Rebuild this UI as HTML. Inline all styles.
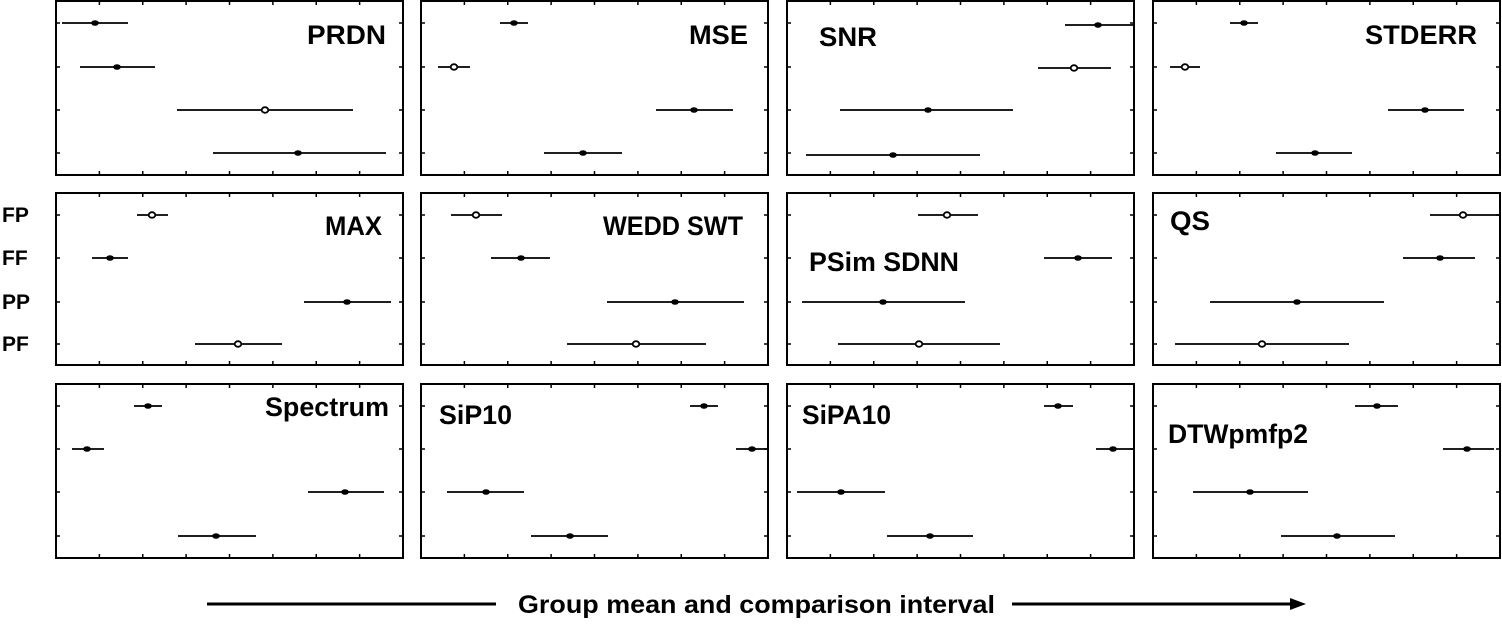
<!DOCTYPE html>
<html><head><meta charset="utf-8"><style>
html,body{margin:0;padding:0;background:#fff;}
svg{display:block;}
text{font-family:"Liberation Sans",Arial,sans-serif;font-weight:bold;fill:#000;}
</style></head><body>
<svg id="s" width="1502" height="632" viewBox="0 0 1502 632" xmlns="http://www.w3.org/2000/svg">
<g id="g"></g>
<g font-size="27">
<text x="307" y="44" textLength="79" lengthAdjust="spacingAndGlyphs">PRDN</text>
<text x="689" y="44" textLength="59" lengthAdjust="spacingAndGlyphs">MSE</text>
<text x="819" y="46" textLength="58" lengthAdjust="spacingAndGlyphs">SNR</text>
<text x="1365" y="44" textLength="112" lengthAdjust="spacingAndGlyphs">STDERR</text>
<text x="325" y="235" textLength="57" lengthAdjust="spacingAndGlyphs">MAX</text>
<text x="603" y="235" textLength="140" lengthAdjust="spacingAndGlyphs">WEDD SWT</text>
<text x="809" y="271" textLength="150" lengthAdjust="spacingAndGlyphs">PSim SDNN</text>
<text x="1170" y="230" textLength="40" lengthAdjust="spacingAndGlyphs">QS</text>
<text x="265" y="416" textLength="124" lengthAdjust="spacingAndGlyphs">Spectrum</text>
<text x="439" y="424" textLength="73" lengthAdjust="spacingAndGlyphs">SiP10</text>
<text x="802" y="424" textLength="89" lengthAdjust="spacingAndGlyphs">SiPA10</text>
<text x="1168" y="443" textLength="140" lengthAdjust="spacingAndGlyphs">DTWpmfp2</text>
</g>
<g font-size="21">
<text x="2" y="222">FP</text>
<text x="2" y="265">FF</text>
<text x="2" y="309">PP</text>
<text x="2" y="351">PF</text>
</g>
<text x="518" y="613" font-size="25" textLength="477" lengthAdjust="spacingAndGlyphs">Group mean and comparison interval</text>
<line x1="207" y1="604" x2="496" y2="604" stroke="#000" stroke-width="3"/>
<line x1="1012" y1="604" x2="1292" y2="604" stroke="#000" stroke-width="3"/>
<polygon points="1306,604 1290,598 1290,610" fill="#000"/>
</svg>
<script>
var g=document.getElementById('g'),NS='http://www.w3.org/2000/svg';
function el(t,a){var e=document.createElementNS(NS,t);for(var k in a)e.setAttribute(k,a[k]);g.appendChild(e);}
var cols=[[56,403],[421,768],[787,1134],[1153,1500]];
var rows=[[1,175,[23,67,110,153]],[193,365,[215,258,302,344]],[384,558,[406,449,492,536]]];
rows.forEach(function(r){cols.forEach(function(c){
 el('rect',{x:c[0],y:r[0],width:c[1]-c[0],height:r[1]-r[0],fill:'none',stroke:'#000','stroke-width':2});
 for(var i=1;i<8;i++){var x=c[0]+(c[1]-c[0])*i/8;
  el('line',{x1:x,y1:r[0],x2:x,y2:r[0]+4,stroke:'#000','stroke-width':1.5});
  el('line',{x1:x,y1:r[1],x2:x,y2:r[1]-4,stroke:'#000','stroke-width':1.5});}
 r[2].forEach(function(y){
  el('line',{x1:c[0],y1:y,x2:c[0]+4,y2:y,stroke:'#000','stroke-width':1.5});
  el('line',{x1:c[1],y1:y,x2:c[1]-4,y2:y,stroke:'#000','stroke-width':1.5});});
});});
var d=[
[62,95,128,23,0],[80,117,155,67,0],[177,265,353,110,1],[213,298,386,153,0],
[500,514,528,23,0],[438,454,470,67,1],[656,694,733,110,0],[544,583,622,153,0],
[1065,1098,1133,25,0],[1038,1074,1111,68,1],[840,928,1013,110,0],[806,893,980,155,0],
[1230,1244,1258,23,0],[1170,1185,1200,67,1],[1388,1425,1464,110,0],[1276,1315,1352,153,0],
[137,152,168,215,1],[92,110,128,258,0],[304,347,391,302,0],[195,238,282,344,1],
[451,476,502,215,1],[491,521,550,258,0],[607,675,744,302,0],[567,636,706,344,1],
[918,947,978,215,1],[1044,1078,1112,258,0],[802,883,965,302,0],[838,919,1000,344,1],
[1430,1463,1500,215,1],[1403,1440,1475,258,0],[1210,1297,1384,302,0],[1175,1262,1349,344,1],
[134,148,162,406,0],[72,87,104,449,0],[308,345,384,492,0],[178,216,256,536,0],
[690,704,718,406,0],[736,752,768,449,0],[447,486,524,492,0],[531,570,608,536,0],
[1044,1058,1073,406,0],[1096,1113,1134,449,0],[797,841,885,492,0],[887,930,973,536,0],
[1355,1377,1398,406,0],[1443,1467,1494,449,0],[1193,1250,1308,492,0],[1281,1337,1395,536,0]];
d.forEach(function(p){
 el('line',{x1:p[0],y1:p[3],x2:p[2],y2:p[3],stroke:'#000','stroke-width':1.8});
 if(p[4]) el('ellipse',{cx:p[1],cy:p[3],rx:3.3,ry:2.8,fill:'#fff',stroke:'#000','stroke-width':1.8});
 else el('ellipse',{cx:p[1],cy:p[3],rx:3.8,ry:2.8,fill:'#000'});
});
</script>
</body></html>
